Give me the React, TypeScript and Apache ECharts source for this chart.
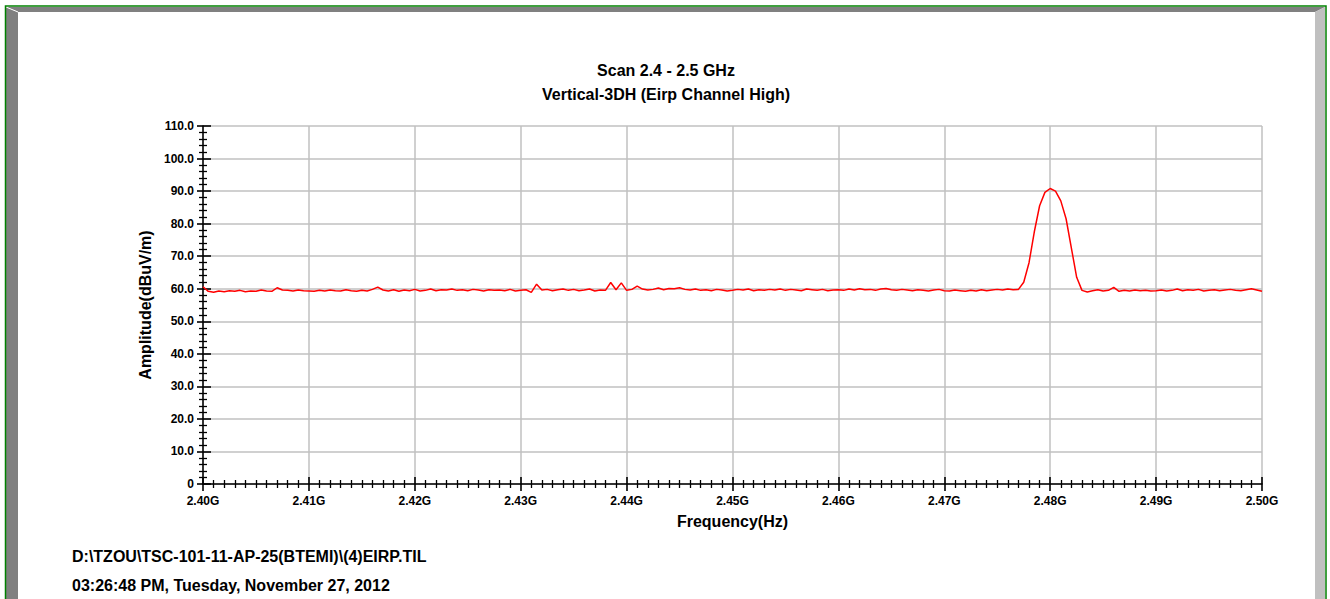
import React, { useEffect, useRef } from "react";
import * as echarts from "echarts";

const TITLE_LINES = ["Scan 2.4 - 2.5 GHz", "Vertical-3DH (Eirp Channel High)"];
const FOOTER_LINES = [
  "D:\\TZOU\\TSC-101-11-AP-25(BTEMI)\\(4)EIRP.TIL",
  "03:26:48 PM, Tuesday, November 27, 2012",
];
const X_NAME = "Frequency(Hz)";
const Y_NAME = "Amplitude(dBuV/m)";

// frequency axis in MHz
const FREQ_START = 2400;
const FREQ_STEP = 0.5;
const X_MIN = 2400;
const X_MAX = 2500;
const X_INTERVAL = 10;
const Y_MIN = 0;
const Y_MAX = 110;
const Y_INTERVAL = 10;

// amplitude (dBuV/m), one value per 0.5 MHz, rows of 5 MHz
const AMPLITUDE = [
  60.6, 59.2, 58.9, 59.3, 59.1, 59.4, 59.2, 59.5, 59.1, 59.3,
  59.2, 59.6, 59.3, 59.2, 60.3, 59.6, 59.5, 59.3, 59.6, 59.4,
  59.3, 59.2, 59.5, 59.3, 59.6, 59.4, 59.3, 59.7, 59.4, 59.2,
  59.5, 59.3, 59.8, 60.5, 59.6, 59.3, 59.7, 59.2, 59.6, 59.4,
  59.8, 59.3, 59.5, 59.9, 59.4, 59.7, 59.6, 59.9, 59.5, 59.7,
  59.4, 59.8, 59.6, 59.3, 59.7, 59.5, 59.6, 59.4, 59.8, 59.3,
  59.5, 59.7, 58.9, 61.4, 59.6, 59.8, 59.4, 59.7, 59.9, 59.5,
  59.8, 59.4, 59.6, 59.9, 59.3, 59.6, 59.5, 61.9, 59.7, 61.8,
  59.5, 59.8, 60.8, 59.9, 59.6, 59.8, 60.2, 59.7, 60.1, 60.0,
  60.3, 59.8, 59.6, 59.9, 59.5, 59.7, 59.4, 59.8, 59.6, 59.3,
  59.5, 59.8, 59.6, 59.9, 59.4, 59.7, 59.5, 59.8, 59.6, 59.9,
  59.5, 59.8, 59.6, 59.4, 59.9, 59.7, 59.5, 59.8, 59.4, 59.6,
  59.7, 59.5, 59.9, 59.6, 60.0, 59.7, 59.8, 59.5, 59.9, 60.1,
  59.7, 59.5, 59.8, 59.6, 59.4, 59.7, 59.5, 59.3, 59.6, 59.8,
  59.4, 59.3, 59.6, 59.4, 59.2, 59.5, 59.3, 59.7, 59.4, 59.6,
  59.8, 59.6, 59.9, 59.7, 59.8, 62.0, 68.0, 77.5, 85.5, 89.6,
  90.8, 90.0, 87.0, 81.5, 72.5, 63.5, 59.5, 59.0, 59.4, 59.7,
  59.3, 59.5, 60.4, 59.2, 59.5, 59.3, 59.6, 59.4, 59.5, 59.3,
  59.4, 59.6, 59.3, 59.5, 59.9, 59.4, 59.7, 59.5, 59.8, 59.3,
  59.5, 59.7, 59.4, 59.6, 59.8, 59.5, 59.4, 59.7, 60.0, 59.6,
  59.2,
];

const FONT = "'Liberation Sans', Arial, sans-serif";

export default function App() {
  const ref = useRef<HTMLDivElement>(null);

  useEffect(() => {
    if (!ref.current) return;
    const chart = echarts.init(ref.current, null, { renderer: "svg" });
    const data = AMPLITUDE.map((v, i) => [FREQ_START + i * FREQ_STEP, v]);

    const xBase = {
      type: "value",
      min: X_MIN,
      max: X_MAX,
      interval: X_INTERVAL,
      position: "bottom",
      minorTick: { show: true, splitNumber: 10, length: 4, lineStyle: { color: "#000", width: 1.3 } },
    };
    const yBase = {
      type: "value",
      min: Y_MIN,
      max: Y_MAX,
      interval: Y_INTERVAL,
      position: "left",
      minorTick: { show: true, splitNumber: 5, length: 4, lineStyle: { color: "#000", width: 1.3 } },
    };

    const labelFont = { fontFamily: FONT, fontWeight: "bold", fontSize: 12, color: "#000" };
    const nameFont = { fontFamily: FONT, fontWeight: "bold", fontSize: 16, color: "#000" };

    chart.setOption({
      animation: false,
      backgroundColor: "#ffffff",
      grid: { left: 203, right: 68, top: 126, bottom: 115, containLabel: false },
      xAxis: [
        {
          ...xBase,
          name: X_NAME,
          nameLocation: "middle",
          nameGap: 29,
          nameTextStyle: nameFont,
          axisLine: { show: true, lineStyle: { color: "#000", width: 1.5 } },
          axisTick: { show: true, inside: false, length: 7, lineStyle: { color: "#000", width: 1.6 } },
          axisLabel: {
            show: true,
            margin: 11,
            ...labelFont,
            formatter: (v: number) => (v / 1000).toFixed(2) + "G",
          },
          splitLine: { show: true, lineStyle: { color: "#c0c0c0", width: 1.5 } },
        },
        {
          ...xBase,
          axisLine: { show: false },
          axisTick: { show: true, inside: true, length: 7, lineStyle: { color: "#000", width: 1.6 } },
          axisLabel: { show: false },
          splitLine: { show: false },
        },
      ],
      yAxis: [
        {
          ...yBase,
          name: Y_NAME,
          nameLocation: "middle",
          nameGap: 50,
          nameRotate: 90,
          nameTextStyle: nameFont,
          axisLine: { show: true, lineStyle: { color: "#000", width: 1.5 } },
          axisTick: { show: true, inside: false, length: 6, lineStyle: { color: "#000", width: 1.6 } },
          axisLabel: {
            show: true,
            margin: 9,
            ...labelFont,
            formatter: (v: number) => (v === 0 ? "0" : v.toFixed(1)),
          },
          splitLine: { show: true, lineStyle: { color: "#c0c0c0", width: 1.5 } },
        },
        {
          ...yBase,
          axisLine: { show: false },
          axisTick: { show: true, inside: true, length: 8, lineStyle: { color: "#000", width: 1.6 } },
          axisLabel: { show: false },
          splitLine: { show: false },
        },
      ],
      series: [
        {
          type: "line",
          xAxisIndex: 0,
          yAxisIndex: 0,
          data,
          symbol: "none",
          smooth: false,
          lineStyle: { color: "#ff0000", width: 1.5 },
          z: 5,
        },
      ],
      graphic: [
        // frame bevels
        { type: "polygon", shape: { points: [[6, 7], [1325, 7], [1315, 12], [18, 12]] }, style: { fill: "#808080" }, silent: true },
        { type: "polygon", shape: { points: [[6, 7], [18, 12], [18, 599], [6, 599]] }, style: { fill: "#808080" }, silent: true },
        { type: "polygon", shape: { points: [[1315, 12], [1325, 7], [1325, 599], [1315, 599]] }, style: { fill: "#c0c0c0" }, silent: true },
        { type: "line", shape: { x1: 6, y1: 7, x2: 18, y2: 12 }, style: { stroke: "#ffffff", lineWidth: 1 }, silent: true },
        { type: "rect", shape: { x: 5.5, y: 6, width: 1320.5, height: 600 }, style: { fill: "none", stroke: "#008000", lineWidth: 1.5 }, silent: true },
        // titles
        {
          type: "text",
          x: 666,
          y: 70,
          style: { text: TITLE_LINES[0], fill: "#000", font: `bold 16px ${FONT}`, textAlign: "center", textVerticalAlign: "middle" },
        },
        {
          type: "text",
          x: 666,
          y: 94,
          style: { text: TITLE_LINES[1], fill: "#000", font: `bold 16px ${FONT}`, textAlign: "center", textVerticalAlign: "middle" },
        },
        // footer
        {
          type: "text",
          x: 72,
          y: 556,
          style: { text: FOOTER_LINES[0], fill: "#000", font: `bold 16px ${FONT}`, textAlign: "left", textVerticalAlign: "middle" },
        },
        {
          type: "text",
          x: 72,
          y: 585,
          style: { text: FOOTER_LINES[1], fill: "#000", font: `bold 16px ${FONT}`, textAlign: "left", textVerticalAlign: "middle" },
        },
      ],
    });
    return () => chart.dispose();
  }, []);

  return (
    <div
      ref={ref}
      style={{ position: "fixed", left: 0, top: 0, width: 1330, height: 599, background: "#fff" }}
    />
  );
}
